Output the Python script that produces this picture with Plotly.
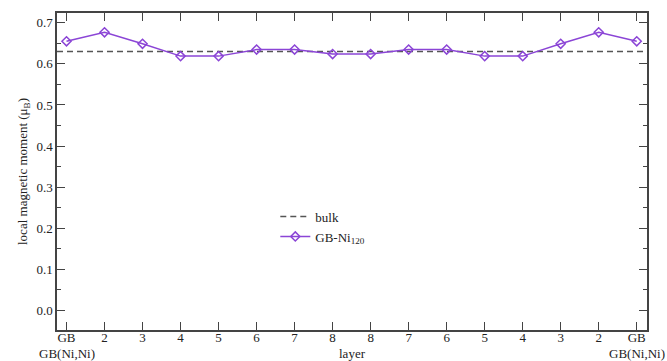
import plotly.graph_objects as go

# Layer labels across the slab: GB ... 8 8 ... GB
layers = ["GB", "2", "3", "4", "5", "6", "7", "8", "8", "7", "6", "5", "4", "3", "2", "GB"]
# Local magnetic moment per layer (mu_B) for GB-Ni120
moment = [0.655, 0.677, 0.649, 0.619, 0.619, 0.635, 0.635, 0.624,
          0.624, 0.635, 0.635, 0.619, 0.619, 0.649, 0.677, 0.655]
# Bulk Ni reference moment
bulk_moment = 0.630
# Interface type written under the outer GB layers
gb_type = "GB(Ni,Ni)"

x_range = [-0.25, 15.27]
y_range = [-0.048, 0.724]

positions = list(range(len(layers)))

font_family = "Liberation Serif"
violet = "#8b45d6"
frame = "#444444"
txt = "#222222"

fig = go.Figure()

fig.add_trace(go.Scatter(
    x=x_range, y=[bulk_moment, bulk_moment],
    mode="lines", name="bulk",
    line=dict(color="#555555", width=1.5, dash="6px,4px"),
))

fig.add_trace(go.Scatter(
    x=positions, y=moment,
    mode="lines+markers", name="GB-Ni<sub>120</sub>",
    line=dict(color=violet, width=1.5),
    marker=dict(symbol="diamond-open", size=7, color=violet, line=dict(width=1.5, color=violet)),
))

fig.update_layout(
    width=667, height=361,
    margin=dict(l=57, r=20, t=13, b=31, autoexpand=False),
    paper_bgcolor="white", plot_bgcolor="white",
    font=dict(family=font_family, size=13, color=txt),
    showlegend=True,
    legend=dict(
        x=0.37, y=0.405, xanchor="left", yanchor="top",
        bgcolor="rgba(0,0,0,0)", font=dict(size=13, family=font_family, color=txt),
        tracegroupgap=0, itemwidth=30,
    ),
)

# Second line of the outer tick labels and the axis title share one baseline
for xi, lab in zip(positions, layers):
    if lab == "GB":
        fig.add_annotation(x=xi, y=0, xref="x", yref="paper", text=gb_type,
                           showarrow=False, yanchor="top", yshift=-15, borderpad=0,
                           font=dict(size=13, family=font_family, color=txt))
fig.add_annotation(x=0.5, y=0, xref="paper", yref="paper", text="layer",
                   showarrow=False, yanchor="top", yshift=-15, borderpad=0,
                   font=dict(size=13, family=font_family, color=txt))

fig.update_xaxes(
    range=x_range, tickmode="array", tickvals=positions, ticktext=layers,
    ticks="inside", ticklen=8, tickwidth=1.3, tickcolor=frame,
    showline=True, linecolor=frame, linewidth=1.5, mirror="ticks",
    showgrid=False, zeroline=False, automargin=False,
    tickfont=dict(size=13, family=font_family, color=txt),
    ticklabelstandoff=-5,
)

fig.update_yaxes(
    range=y_range, tickmode="linear", tick0=0, dtick=0.1, tickformat=".1f",
    ticks="inside", ticklen=8, tickwidth=1.3, tickcolor=frame,
    minor=dict(ticks="inside", ticklen=4, tickwidth=1.2, tickcolor=frame, dtick=0.05, tick0=0, showgrid=False),
    showline=True, linecolor=frame, linewidth=1.5, mirror="ticks",
    showgrid=False, zeroline=False, automargin=False,
    tickfont=dict(size=13, family=font_family, color=txt),
    title=dict(text="local magnetic moment (μ<sub>B</sub>)", font=dict(size=13, family=font_family, color=txt), standoff=6),
)

fig.write_html("out.html")
